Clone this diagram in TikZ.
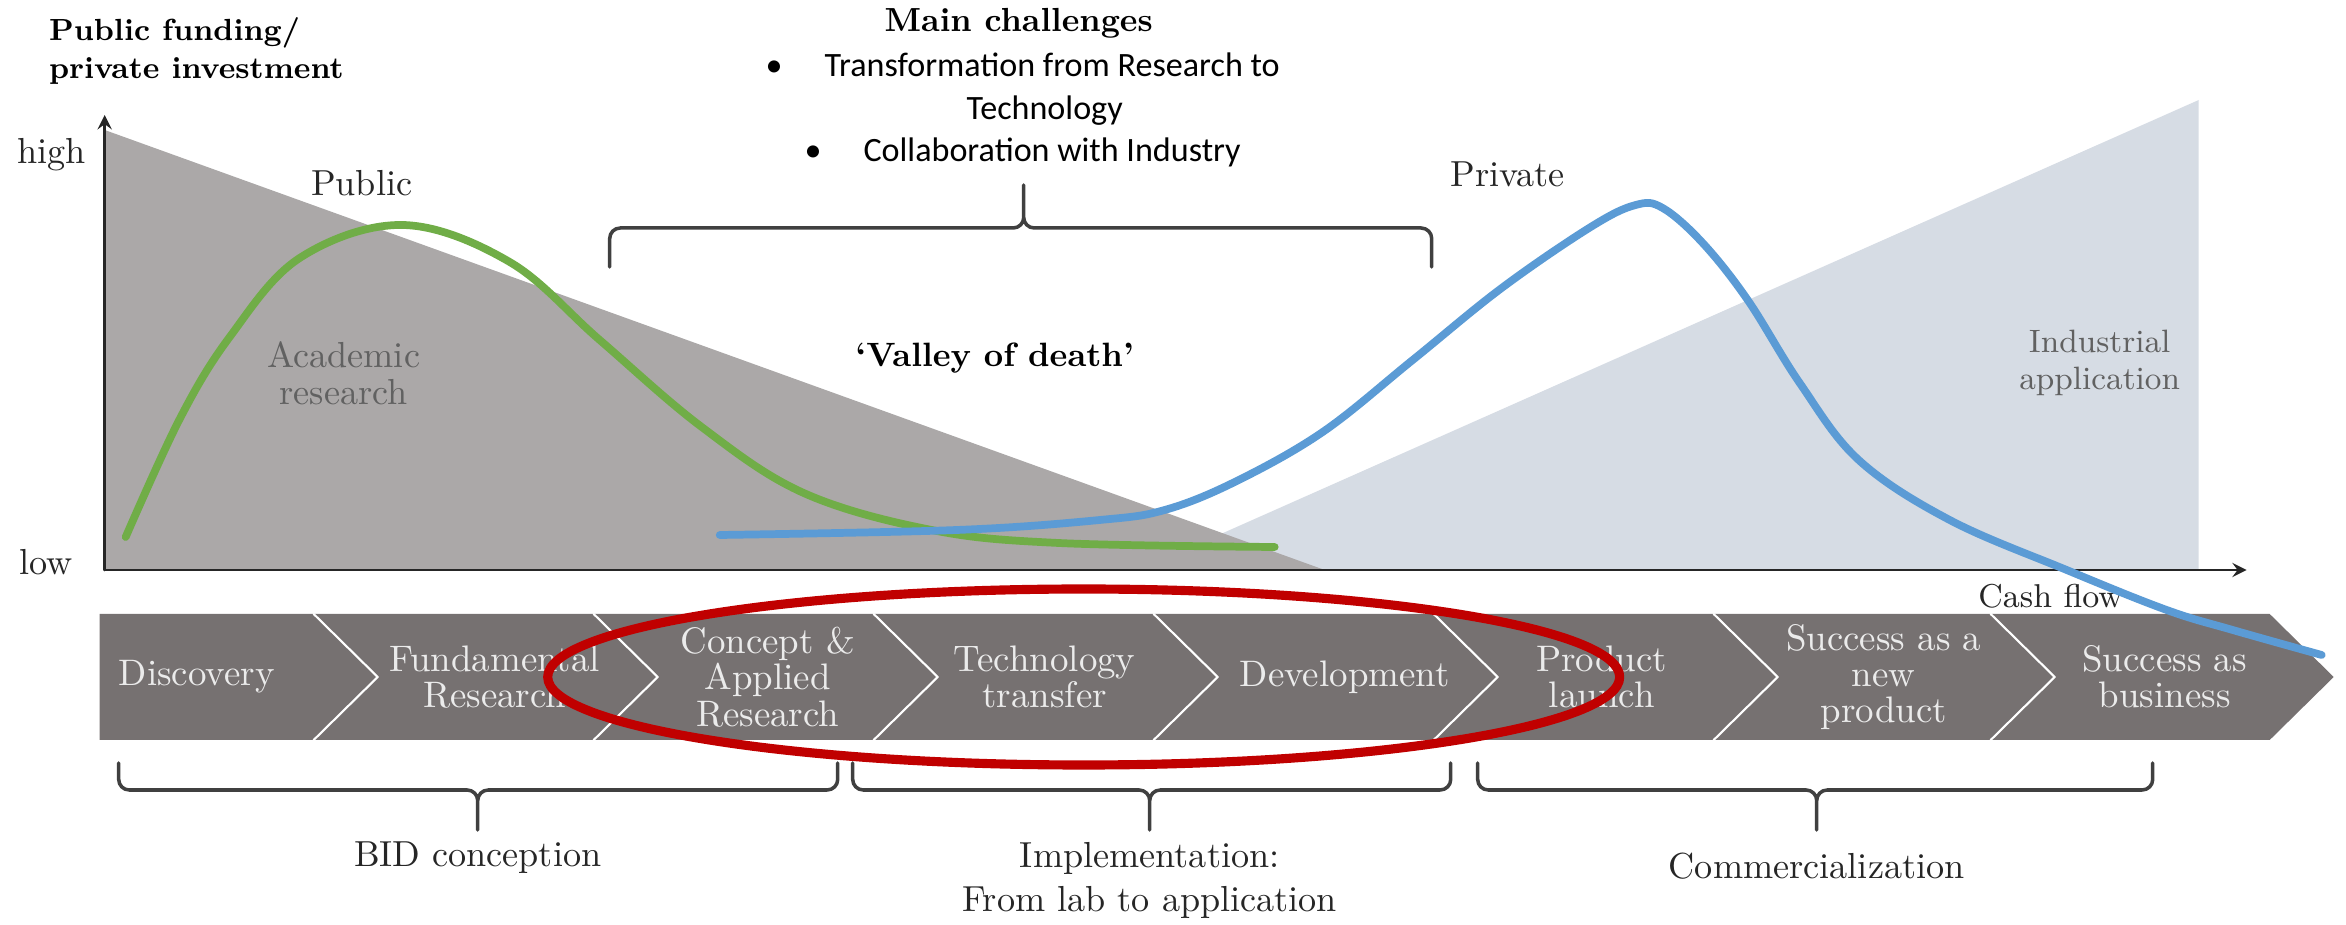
\documentclass[tikz,border=0pt]{standalone}
\usepackage{fontspec}
\newfontfamily\calibrifont{Carlito}
\usepackage{xcolor}
\usetikzlibrary{arrows}
\definecolor{academicgray}{RGB}{171,168,168}
\definecolor{industryblue}{RGB}{214,220,228}
\definecolor{bandgray}{RGB}{118,113,113}
\definecolor{publicgreen}{RGB}{112,173,71}
\definecolor{privateblue}{RGB}{91,155,213}
\definecolor{ringred}{RGB}{192,0,0}

\begin{document}
\begin{tikzpicture}[line join=round, line cap=round,>=stealth,thick]
        \tikzset{text style/.style={font=\fontsize{10.3}{10.5}\selectfont, text=black!85},
                 area style/.style={text style, text=black!62, align=center},
                 stage style/.style={font=\fontsize{10.5}{10.3}\selectfont, text=white!92!black, align=center},
                 brace style/.style={draw=black!75, line width=1pt, rounded corners=3pt},
                 curve style/.style={line width=2.2pt, smooth, tension=0.6}}
        \useasboundingbox (-1.047,-3.546) rectangle (22.413,5.700);
        % funding areas
        \fill[industryblue] (10.35,0) -- (20.94,4.70) -- (20.94,0) -- cycle;
        \fill[academicgray] (0,4.40) -- (12.2,0) -- (0,0) -- cycle;
        \draw[curve style, publicgreen] plot coordinates {(0.21,0.33) (0.75,1.51) (1.25,2.33) (1.95,3.12) (2.98,3.45) (4.05,3.08) (4.95,2.30) (5.97,1.43) (6.99,0.77) (8.27,0.40) (9.54,0.27) (11.70,0.23)};
        \draw[->, black!85] (0,0)--(0,4.55);
        \draw[->, black!85] (0,0)--(21.42,0);
        \node[text style] (high) at (-0.53,4.15) {high};
        \node[text style] (low) at (-0.59,0.08) {low};
        \node[anchor=north west, inner sep=0, align=left, font=\bfseries\fontsize{8.7}{10.8}\selectfont] (axistitle) at (-0.57,5.54) {Public funding/\\private investment};
        \node[text style] (public) at (2.57,3.87) {Public};
        \node[text style] (private) at (14.03,3.96) {Private};
        \node[area style] (academic) at (2.39,1.97) {Academic\\research};
        \node[area style, font=\fontsize{9.2}{10.5}\selectfont] (industrial) at (19.95,2.07) {Industrial\\application};
        \node[font=\bfseries\fontsize{9.6}{11}\selectfont] (valley) at (8.90,2.12) {`Valley of death'};
        \node[text style, font=\fontsize{9.4}{9.5}\selectfont] (cashflow) at (19.46,-0.26) {Cash flow};
        % challenges
        \node[font=\bfseries\fontsize{9.5}{11}\selectfont] (mainch) at (9.14,5.47) {Main challenges};
        \node[align=center, font=\calibrifont\fontsize{9.7}{12.2}\selectfont] (challenges) at (9.18,4.60)
            {\textbullet\hspace{0.42cm}Transformation from Research to\\ \hspace*{0.44cm}Technology\\ \textbullet\hspace{0.42cm}Collaboration with Industry};
        \draw[brace style] (5.05,3.03) |- (9.19,3.42) -- (9.19,3.85) (13.27,3.03) |- (9.19,3.42) -- (9.19,3.85);
        % stages
        \fill[bandgray] (-0.05,-0.44) -- (21.65,-0.44) -- (22.29,-1.07) -- (21.65,-1.70) -- (-0.05,-1.70) -- cycle;
        \foreach \x in {2.09,4.89,7.69,10.49,13.29,16.09,18.86}
            \draw[white, line width=0.6pt] (\x,-0.44)--(\x+0.64,-1.07)--(\x,-1.70);
        \node[stage style] (discovery) at (0.92,-1.07) {Discovery};
        \node[stage style] (fundamental) at (3.90,-1.07) {Fundamental\\Research};
        \node[stage style] (concept) at (6.63,-1.07) {Concept \&\\Applied\\Research};
        \node[stage style] (transfer) at (9.40,-1.07) {Technology\\transfer};
        \node[stage style] (development) at (12.40,-1.07) {Development};
        \node[stage style] (launch) at (14.97,-1.07) {Product\\launch};
        \node[stage style] (newproduct) at (17.79,-1.07) {Success as a\\new\\product};
        \node[stage style] (business) at (20.60,-1.07) {Success as\\business};
        % phases
        \foreach \l/\m/\r in {0.14/3.73/7.33, 7.48/10.45/13.46, 13.73/17.12/20.48}
            \draw[brace style] (\l,-1.93) |- (\m,-2.20) -- (\m,-2.60) (\r,-1.93) |- (\m,-2.20) -- (\m,-2.60);
        \node[text style] (bid) at (3.73,-2.88) {BID conception};
        \node[text style, align=center, font=\fontsize{10.3}{12.5}\selectfont] (implementation) at (10.45,-3.10) {Implementation:\\From lab to application};
        \node[text style] (commercial) at (17.12,-2.96) {Commercialization};
        % private investment curve
        \draw[curve style, privateblue] plot coordinates {(6.15,0.35) (8.52,0.40) (9.95,0.50) (10.60,0.60) (11.30,0.88) (12.18,1.38) (13.08,2.10) (13.97,2.82) (14.86,3.43) (15.31,3.65) (15.58,3.62) (15.98,3.27) (16.43,2.70) (16.95,1.87) (17.54,1.10) (18.45,0.50) (19.62,0.0) (20.62,-0.40) (21.28,-0.60) (22.17,-0.85)};
        \draw[ringred, line width=2.6pt] (9.79,-1.07) ellipse [x radius=5.36, y radius=0.88];
\end{tikzpicture}
\end{document}
